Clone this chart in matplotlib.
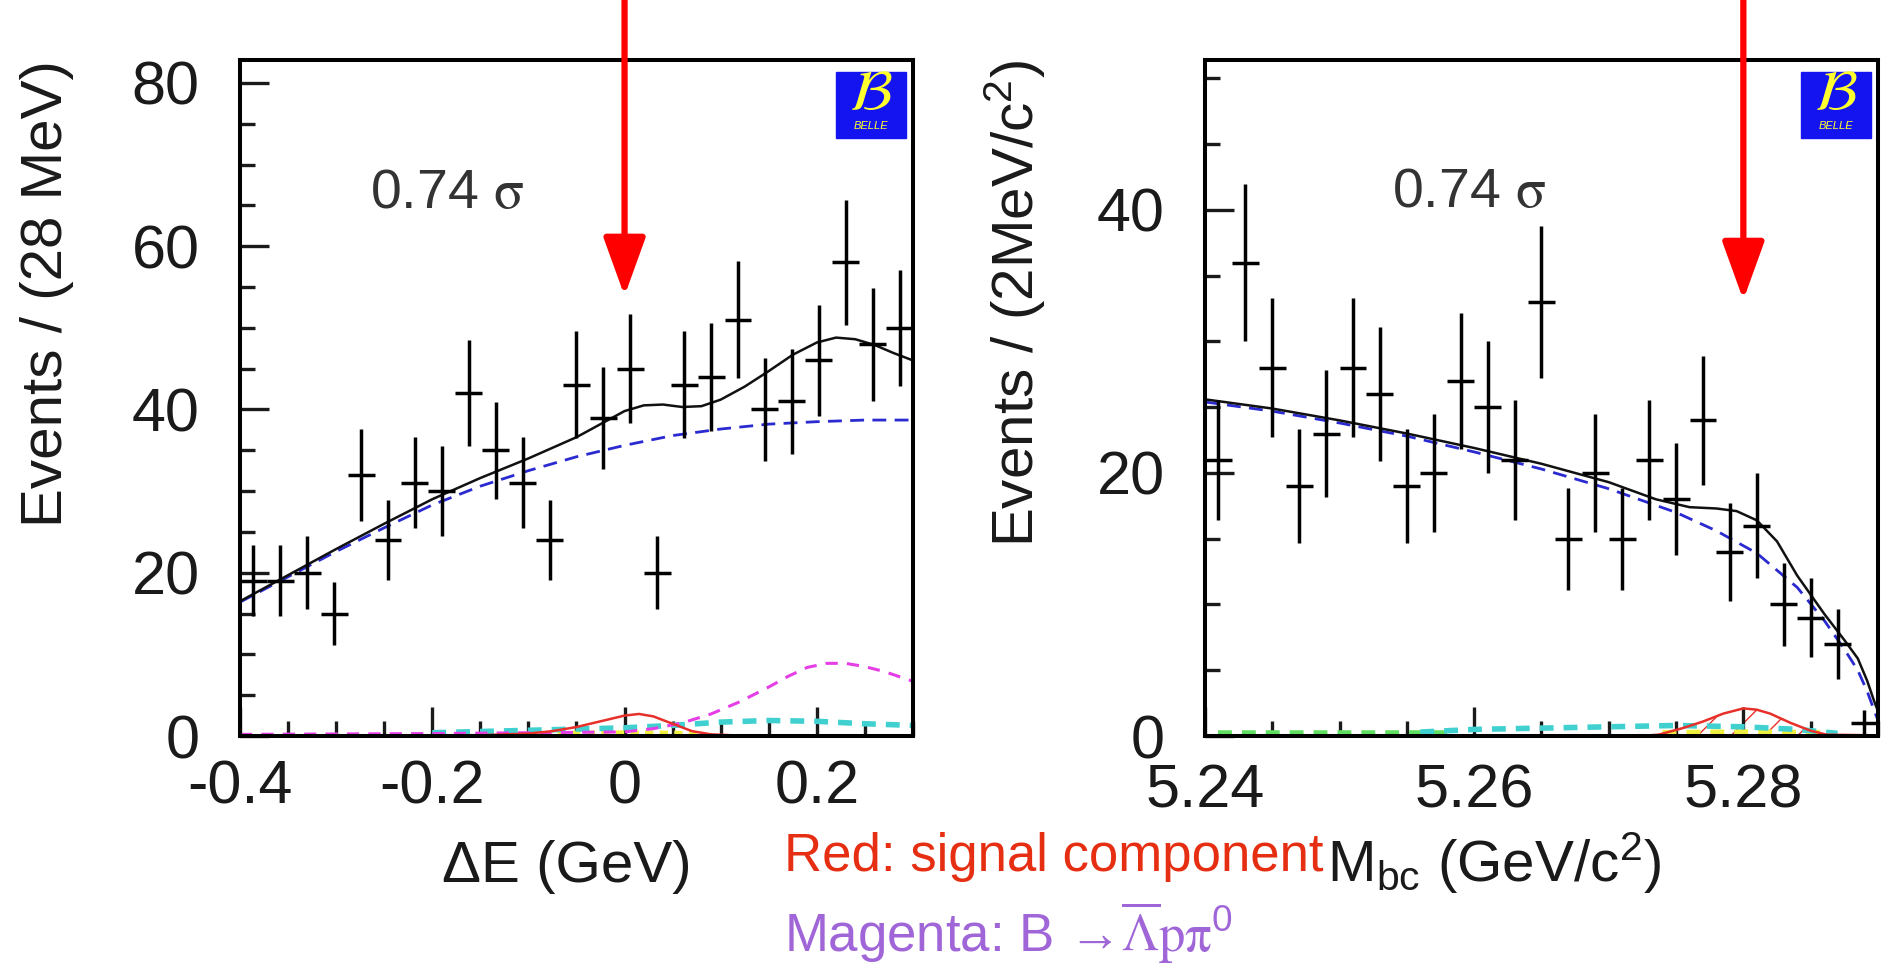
import numpy as np
import matplotlib
matplotlib.use("Agg")
import matplotlib.pyplot as plt
from matplotlib.patches import Rectangle
from matplotlib.ticker import MultipleLocator

plt.rcParams['font.family'] = ['Liberation Sans', 'DejaVu Sans']
plt.rcParams['mathtext.fontset'] = 'stix'
plt.rcParams['mathtext.default'] = 'regular'

# --- Delta E panel: 25 bins of 28 MeV from -0.4 to 0.3 GeV
de_lo, de_bin = -0.4, 0.028
de_counts = [19, 19, 20, 15, 32, 24, 31, 30, 42, 35, 31, 24, 43,
             39, 45, 20, 43, 44, 51, 40, 41, 46, 58, 48, 50]

de_bkg_x = [-0.4, -0.35, -0.3, -0.25, -0.2, -0.15, -0.1, -0.05, 0.0,
            0.05, 0.1, 0.15, 0.2, 0.25, 0.3]
de_bkg_y = [16.4, 19.5, 22.6, 25.5, 28.3, 30.6, 32.5, 34.2, 35.6,
            36.8, 37.6, 38.2, 38.5, 38.7, 38.7]

de_tot_x = [-0.4, -0.35, -0.3, -0.25, -0.2, -0.15, -0.1, -0.05, -0.025, 0.0,
            0.02, 0.04, 0.06, 0.08, 0.1, 0.125, 0.15, 0.175, 0.2, 0.22,
            0.24, 0.26, 0.28, 0.3]
de_tot_y = [16.5, 19.7, 22.9, 26.0, 29.0, 31.6, 34.0, 36.6, 38.2, 39.8,
            40.5, 40.6, 40.3, 40.4, 41.2, 42.8, 44.7, 46.7, 48.2, 48.8,
            48.6, 47.9, 46.9, 46.0]

de_mag_x = [-0.4, -0.2, 0.0, 0.03, 0.06, 0.09, 0.12, 0.15, 0.17, 0.19,
            0.21, 0.23, 0.25, 0.27, 0.29, 0.3]
de_mag_y = [0.2, 0.3, 0.5, 0.9, 1.6, 2.7, 4.2, 6.0, 7.3, 8.4,
            8.9, 8.9, 8.5, 7.9, 7.1, 6.7]

de_cyan_x = [-0.2, -0.1, 0.0, 0.05, 0.1, 0.15, 0.2, 0.25, 0.3]
de_cyan_y = [0.4, 0.7, 1.0, 1.3, 1.7, 1.9, 1.8, 1.5, 1.3]

de_sig_x = [-0.4, -0.15, -0.1, -0.075, -0.05, -0.025, 0.0, 0.015, 0.03,
            0.05, 0.07, 0.09, 0.12, 0.3]
de_sig_y = [0.05, 0.1, 0.3, 0.6, 1.1, 1.8, 2.5, 2.7, 2.4,
            1.5, 0.6, 0.2, 0.05, 0.05]

de_yel_x = [-0.1, -0.05, 0.0, 0.05, 0.08]
de_yel_y = [0.3, 0.4, 0.45, 0.4, 0.3]

# --- Mbc panel: 25 bins of 2 MeV from 5.24 to 5.29 GeV
mbc_lo, mbc_bin = 5.24, 0.002
mbc_counts = [21, 36, 28, 19, 23, 28, 26, 19, 20, 27, 25, 21, 33,
              15, 20, 15, 21, 18, 24, 14, 16, 10, 9, 7, 1]

mbc_bkg_x = [5.240, 5.245, 5.250, 5.255, 5.260, 5.265, 5.270, 5.275, 5.278,
             5.281, 5.284, 5.286, 5.2875, 5.2885, 5.2892, 5.2897, 5.290]
mbc_bkg_y = [25.4, 24.7, 23.8, 22.8, 21.6, 20.3, 18.8, 17.0, 15.6,
             13.9, 11.3, 8.8, 6.6, 5.0, 3.4, 2.0, 1.2]

mbc_tot_x = [5.240, 5.245, 5.250, 5.255, 5.260, 5.265, 5.270, 5.2735, 5.276,
             5.278, 5.2795, 5.281, 5.2825, 5.284, 5.286, 5.2875, 5.2885,
             5.2892, 5.2897, 5.290]
mbc_tot_y = [25.6, 24.9, 24.0, 23.0, 21.9, 20.7, 19.3, 18.0, 17.4,
             17.3, 17.1, 16.4, 14.8, 12.2, 9.3, 7.3, 5.9,
             4.2, 2.7, 1.9]

mbc_sig_x = [5.240, 5.273, 5.2737, 5.2755, 5.277, 5.2785, 5.280, 5.281,
             5.282, 5.2835, 5.285, 5.2862, 5.290]
mbc_sig_y = [0.05, 0.05, 0.1, 0.6, 1.1, 1.7, 2.1, 2.0,
             1.7, 1.0, 0.4, 0.1, 0.05]

mbc_cyan_x = [5.256, 5.260, 5.265, 5.270, 5.275, 5.280, 5.284, 5.287]
mbc_cyan_y = [0.3, 0.5, 0.6, 0.7, 0.8, 0.7, 0.5, 0.2]

mbc_grn_x = [5.241, 5.250, 5.258]
mbc_grn_y = [0.25, 0.25, 0.25]

mbc_yel_x = [5.274, 5.280, 5.286]
mbc_yel_y = [0.25, 0.3, 0.25]


def style_axes(ax, xpad):
    for s in ax.spines.values():
        s.set_linewidth(2.9)
    ax.tick_params(which='both', direction='in', top=False, right=False,
                   width=2.4, labelsize=44, colors='#1a1a1a')
    ax.tick_params(which='major', length=21)
    ax.tick_params(which='minor', length=11)
    ax.tick_params(axis='x', pad=xpad)
    ax.tick_params(axis='y', pad=29)


def belle_logo(ax):
    ax.add_patch(Rectangle((0.885, 0.885), 0.105, 0.098, transform=ax.transAxes,
                           color='#1414f0', zorder=5))
    ax.text(0.9375, 0.948, r'$\mathcal{B}$', transform=ax.transAxes,
            color='#ffff30', fontsize=42, ha='center', va='center', zorder=6)
    ax.text(0.9375, 0.902, 'BELLE', transform=ax.transAxes, color='#ffff30',
            fontsize=8, style='italic', ha='center', va='center', zorder=6)


def red_arrow(ax, x, y_tip):
    ax.annotate('', xy=(x, y_tip), xycoords='data',
                xytext=(x, 1.0), textcoords=('data', 'figure fraction'),
                arrowprops=dict(arrowstyle='-|>,head_length=36,head_width=13',
                                mutation_scale=1, lw=4.5, color='#ff0000',
                                shrinkA=0, shrinkB=0),
                annotation_clip=False, zorder=7)


fig = plt.figure(figsize=(18.91, 9.76), dpi=100)
ax1 = fig.add_axes([0.1269, 0.2459, 0.3559, 0.6926])
ax2 = fig.add_axes([0.6372, 0.2459, 0.3559, 0.6926])

# left panel
de_n = np.array(de_counts, dtype=float)
de_x = de_lo + de_bin * (np.arange(len(de_n)) + 0.5)
ax1.plot(de_yel_x, de_yel_y, color='#f0f040', lw=3, ls=(0, (2, 1.5)))
ax1.plot(de_cyan_x, de_cyan_y, color='#40d0d0', lw=4, ls=(0, (2.5, 1.8)))
ax1.plot(de_mag_x, de_mag_y, color='#e63ee6', lw=2.2, ls=(0, (4, 3)))
ax1.plot(de_sig_x, de_sig_y, color='#e8302a', lw=1.8)
ax1.plot(de_bkg_x, de_bkg_y, color='#2a2ad0', lw=2, ls=(0, (5, 3)))
ax1.plot(de_tot_x, de_tot_y, color='#111111', lw=1.8)
ax1.errorbar(de_x, de_n, yerr=np.sqrt(de_n), xerr=de_bin / 2, fmt='none',
             ecolor='black', elinewidth=2.5, capsize=0, zorder=4)
ax1.set_xlim(-0.4, 0.3)
ax1.set_ylim(0, 82.8)
ax1.set_xticks([-0.4, -0.2, 0.0, 0.2], ['-0.4', '-0.2', '0', '0.2'])
ax1.set_yticks([0, 20, 40, 60, 80], ['0', '20', '40', '60', '80'])
ax1.xaxis.set_minor_locator(MultipleLocator(0.05))
ax1.yaxis.set_minor_locator(MultipleLocator(5))
style_axes(ax1, 17)
belle_logo(ax1)
ax1.text(-0.185, 66.4, r'0.74 $\mathrm{\sigma}$', fontsize=40, color='#333333',
         ha='center', va='center')
red_arrow(ax1, 0.0, 53.9)

# right panel
mbc_n = np.array(mbc_counts, dtype=float)
mbc_x = mbc_lo + mbc_bin * (np.arange(len(mbc_n)) + 0.5)
ax2.plot(mbc_grn_x, mbc_grn_y, color='#60e060', lw=4, ls=(0, (2.5, 1.8)))
ax2.plot(mbc_yel_x, mbc_yel_y, color='#f0f040', lw=4, ls=(0, (2.5, 1.8)))
ax2.plot(mbc_cyan_x, mbc_cyan_y, color='#40d0d0', lw=4, ls=(0, (2.5, 1.8)))
ax2.fill_between(mbc_sig_x, 0, mbc_sig_y, facecolor='none', edgecolor='#e8302a',
                 hatch='/', lw=0)
ax2.plot(mbc_sig_x, mbc_sig_y, color='#e8302a', lw=1.8)
ax2.plot(mbc_bkg_x, mbc_bkg_y, color='#2a2ad0', lw=2, ls=(0, (5, 3)))
ax2.plot(mbc_tot_x, mbc_tot_y, color='#111111', lw=1.8)
ax2.errorbar(mbc_x, mbc_n, yerr=np.sqrt(mbc_n), xerr=mbc_bin / 2, fmt='none',
             ecolor='black', elinewidth=2.5, capsize=0, zorder=4)
ax2.set_xlim(5.24, 5.29)
ax2.set_ylim(0, 51.4)
ax2.set_xticks([5.24, 5.26, 5.28], ['5.24', '5.26', '5.28'])
ax2.set_yticks([0, 20, 40], ['0', '20', '40'])
ax2.xaxis.set_minor_locator(MultipleLocator(0.005))
ax2.yaxis.set_minor_locator(MultipleLocator(5))
style_axes(ax2, 20)
belle_logo(ax2)
ax2.text(5.2596, 41.3, r'0.74 $\mathrm{\sigma}$', fontsize=40, color='#333333',
         ha='center', va='center')
red_arrow(ax2, 5.28, 33.15)

# axis titles
lab = dict(fontsize=42, color='#1a1a1a')
fig.text(0.025, 0.938, 'Events / (28 MeV)', rotation=90, ha='center', va='top', **lab)
fig.text(0.537, 0.938, 'Events / (2MeV/$c^{2}$)', rotation=90, ha='center', va='top', **lab)
fig.text(0.2998, 0.0963, 'ΔE (GeV)', ha='center', va='baseline', **lab)
fig.text(0.7017, 0.0963, '$M_{bc}$ (GeV/$c^{2}$)', ha='left', va='baseline', **lab)

# notes
fig.text(0.4146, 0.108, 'Red: signal component', fontsize=38, color='#e62e12',
         ha='left', va='baseline')
fig.text(0.4146, 0.025, r'Magenta: B →$\overline{\mathrm{\Lambda}}\mathrm{p\pi}^{0}$',
         fontsize=38, color='#a066d8', ha='left', va='baseline')

fig.savefig('out.png', dpi=100)
